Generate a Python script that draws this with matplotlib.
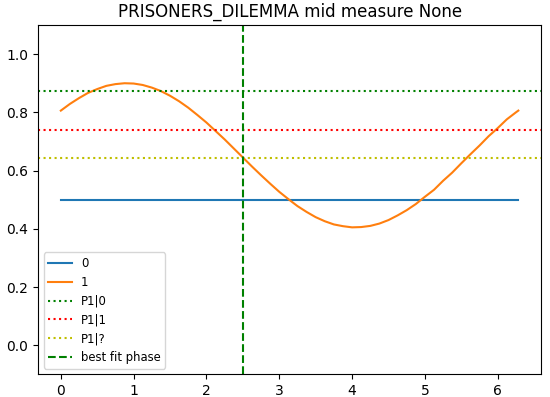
import matplotlib
matplotlib.use('Agg')
import matplotlib.pyplot as plt

# phase grid (0 .. 2*pi)
phase = [0.0, 0.125, 0.25, 0.375, 0.5, 0.625, 0.75, 0.875, 1.0, 1.125,
         1.25, 1.375, 1.5, 1.625, 1.75, 1.875, 2.0, 2.125, 2.25, 2.375,
         2.5, 2.625, 2.75, 2.875, 3.0, 3.125, 3.25, 3.375, 3.5, 3.625,
         3.75, 3.875, 4.0, 4.125, 4.25, 4.375, 4.5, 4.625, 4.75, 4.875,
         5.0, 5.125, 5.25, 5.375, 5.5, 5.625, 5.75, 5.875, 6.0, 6.125,
         6.25, 6.283]
p0 = [0.5] * len(phase)
p1 = [0.806, 0.829, 0.849, 0.867, 0.880, 0.891, 0.897, 0.900, 0.899, 0.894,
      0.885, 0.873, 0.857, 0.838, 0.816, 0.791, 0.765, 0.736, 0.707, 0.676,
      0.645, 0.614, 0.584, 0.555, 0.527, 0.502, 0.478, 0.458, 0.440, 0.426,
      0.415, 0.409, 0.405, 0.406, 0.410, 0.418, 0.430, 0.446, 0.464, 0.485,
      0.510, 0.534, 0.565, 0.593, 0.625, 0.656, 0.686, 0.718, 0.746, 0.776,
      0.800, 0.806]

p1_given_0 = 0.872
p1_given_1 = 0.741
p1_given_q = 0.642
best_phase = 2.506

fig, ax = plt.subplots(figsize=(5.5, 3.97), dpi=100)
ax.plot(phase, p0, label='0')
ax.plot(phase, p1, label='1')
ax.axhline(p1_given_0, color='g', linestyle=':', label='P1|0')
ax.axhline(p1_given_1, color='r', linestyle=':', label='P1|1')
ax.axhline(p1_given_q, color='y', linestyle=':', label='P1|?')
ax.axvline(best_phase, color='g', linestyle='--', label='best fit phase')

ax.set_ylim(-0.1, 1.1)
ax.set_title('PRISONERS_DILEMMA mid measure None')
ax.legend(loc='lower left', fontsize='small')

fig.subplots_adjust(left=0.069, right=0.984, top=0.937, bottom=0.057)
fig.savefig('out.png')
